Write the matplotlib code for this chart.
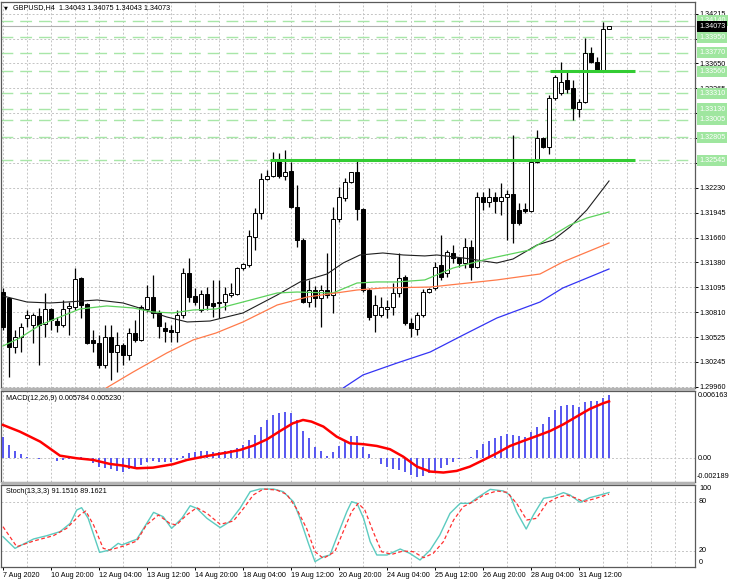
import numpy as np
import matplotlib
matplotlib.use("Agg")
import matplotlib.pyplot as plt
import matplotlib.transforms as mtransforms
from matplotlib.patches import Rectangle

plt.rcParams['font.family'] = ['Liberation Sans', 'DejaVu Sans']

W, H = 730, 583

# --- GBPUSD H4 candles (bar 0 = 7 Aug 12:00) ---
opens = [1.31040, 1.30972, 1.30412, 1.30527, 1.30743, 1.30664, 1.30766, 1.30675, 1.30846, 1.30709,
         1.30664, 1.30858, 1.30869, 1.31200, 1.30903, 1.30492, 1.30458, 1.30207, 1.30527, 1.30355,
         1.30435, 1.30321, 1.30572, 1.30492, 1.30846, 1.30983, 1.30801, 1.30629, 1.30607, 1.30584,
         1.30778, 1.31257, 1.30995, 1.30835, 1.31017, 1.30915, 1.30915, 1.30926, 1.31006, 1.31017,
         1.31314, 1.31349, 1.31669, 1.31943, 1.32331, 1.32365, 1.32536, 1.32365, 1.32422, 1.32011,
         1.31634, 1.30926, 1.31063, 1.30972, 1.31063, 1.31006, 1.31874, 1.32114, 1.32297, 1.32411,
         1.31988, 1.31063, 1.30778, 1.30778, 1.30846, 1.30869, 1.31029, 1.31212, 1.30686, 1.30618,
         1.30778, 1.31040, 1.31086, 1.31349, 1.31257, 1.31486, 1.31429, 1.31372, 1.31554, 1.31326,
         1.32125, 1.32068, 1.32125, 1.32080, 1.32125, 1.32160, 1.31977, 1.31988, 1.31966, 1.32525,
         1.32799, 1.32696, 1.33256, 1.33313, 1.33461, 1.33370, 1.33130, 1.33210, 1.33770, 1.33667,
         1.33576, 1.34043]
highs = [1.31086, 1.30983, 1.30607, 1.30688, 1.30835, 1.30801, 1.30858, 1.31029, 1.30858, 1.30755,
         1.30949, 1.30926, 1.31314, 1.31212, 1.30915, 1.30607, 1.30549, 1.30664, 1.30664, 1.30584,
         1.30458, 1.30629, 1.30721, 1.30892, 1.31120, 1.31235, 1.30835, 1.30698, 1.30664, 1.30835,
         1.31314, 1.31429, 1.31086, 1.31063, 1.31097, 1.31177, 1.31177, 1.31097, 1.31143, 1.31326,
         1.31372, 1.31748, 1.32000, 1.32399, 1.32434, 1.32639, 1.32628, 1.32662, 1.32525, 1.32262,
         1.31657, 1.31177, 1.31109, 1.31120, 1.31486, 1.32011, 1.32240, 1.32342, 1.32411, 1.32548,
         1.32000, 1.31086, 1.31006, 1.30983, 1.30949, 1.31143, 1.31486, 1.31235, 1.30743, 1.30812,
         1.31075, 1.31086, 1.31383, 1.31691, 1.31520, 1.31577, 1.31440, 1.31657, 1.31634, 1.32182,
         1.32182, 1.32228, 1.32182, 1.32285, 1.32205, 1.32833, 1.32057, 1.32057, 1.32548, 1.32890,
         1.32810, 1.33290, 1.33519, 1.33667, 1.33553, 1.33461, 1.33244, 1.33941, 1.33838, 1.33724,
         1.34124, 1.34075]
lows = [1.30607, 1.30070, 1.30344, 1.30355, 1.30641, 1.30458, 1.30207, 1.30527, 1.30607, 1.30584,
        1.30641, 1.30549, 1.30835, 1.30743, 1.30447, 1.30355, 1.30172, 1.30172, 1.30035, 1.30127,
        1.30207, 1.30264, 1.30469, 1.30481, 1.30812, 1.30743, 1.30515, 1.30469, 1.30469, 1.30469,
        1.30743, 1.30926, 1.30892, 1.30812, 1.30835, 1.30755, 1.30743, 1.30835, 1.30983, 1.31006,
        1.31292, 1.31326, 1.31520, 1.31874, 1.32319, 1.32354, 1.32342, 1.32319, 1.32000, 1.31554,
        1.30915, 1.30869, 1.30869, 1.30641, 1.30972, 1.30801, 1.31840, 1.32080, 1.32285, 1.31863,
        1.31040, 1.30721, 1.30584, 1.30755, 1.30743, 1.30778, 1.30983, 1.30664, 1.30527, 1.30549,
        1.30755, 1.31029, 1.31063, 1.31177, 1.31212, 1.31372, 1.31326, 1.31314, 1.31177, 1.31314,
        1.31977, 1.32011, 1.31943, 1.31920, 1.31634, 1.31600, 1.31806, 1.31943, 1.31954, 1.32514,
        1.32685, 1.32616, 1.33233, 1.33290, 1.33313, 1.33005, 1.33039, 1.33199, 1.33656, 1.33564,
        1.33564, 1.34043]
closes = [1.30641, 1.30412, 1.30527, 1.30641, 1.30778, 1.30778, 1.30664, 1.30846, 1.30721, 1.30664,
          1.30846, 1.30881, 1.31189, 1.30892, 1.30458, 1.30458, 1.30207, 1.30527, 1.30355, 1.30435,
          1.30321, 1.30572, 1.30492, 1.30869, 1.30983, 1.30801, 1.30652, 1.30595, 1.30584, 1.30778,
          1.31257, 1.30983, 1.30926, 1.31017, 1.30892, 1.30881, 1.30926, 1.31017, 1.31029, 1.31314,
          1.31360, 1.31680, 1.31943, 1.32333, 1.32365, 1.32536, 1.32365, 1.32411, 1.32011, 1.31634,
          1.30926, 1.31063, 1.30972, 1.31063, 1.31006, 1.31874, 1.32125, 1.32297, 1.32411, 1.31988,
          1.31063, 1.30755, 1.30892, 1.30869, 1.30869, 1.31029, 1.31200, 1.30686, 1.30629, 1.30778,
          1.31040, 1.31075, 1.31326, 1.31212, 1.31497, 1.31429, 1.31372, 1.31554, 1.31326, 1.32125,
          1.32068, 1.32125, 1.32080, 1.32125, 1.32160, 1.31828, 1.31828, 1.31966, 1.32525, 1.32799,
          1.32696, 1.33256, 1.33496, 1.33439, 1.33359, 1.33142, 1.33210, 1.33770, 1.33667, 1.33576,
          1.34044, 1.34073]

# moving averages: (bar, price)
ma_black_x = [0, 4, 7.8, 10.7, 15.7, 20, 23.3, 27.3, 30.7, 34.5, 40, 45.7, 49.5, 54, 56.7, 59.5,
              63.3, 66.7, 70.3, 72.3, 76.7, 82.3, 85, 89, 91.7, 94.5, 97.3, 101]
ma_black_y = [1.30995, 1.30926, 1.30915, 1.30926, 1.30949, 1.30915, 1.30846, 1.30755, 1.30698,
              1.30709, 1.30801, 1.31006, 1.31155, 1.31246, 1.31372, 1.31463, 1.31486, 1.31463,
              1.31452, 1.31463, 1.31429, 1.31372, 1.31417, 1.31577, 1.31634, 1.31783, 1.31977, 1.32308]
ma_green_x = [0, 2.8, 6.2, 9.5, 12.8, 17.3, 21.7, 25, 28.3, 31.7, 35.5, 40, 45.7, 49, 55, 59,
              62.3, 65.7, 70.3, 75, 80.7, 86.2, 87.8, 91.7, 94.5, 97.3, 101]
ma_green_y = [1.30424, 1.30515, 1.30664, 1.30755, 1.30846, 1.30881, 1.30858, 1.30812, 1.30801,
              1.30835, 1.30846, 1.30926, 1.31029, 1.31040, 1.31029, 1.31143, 1.31155, 1.31155,
              1.31178, 1.31314, 1.31417, 1.31497, 1.31520, 1.31691, 1.31806, 1.31885, 1.31954]
ma_orange_x = [17.2, 21.7, 27.3, 31.7, 35.5, 40, 45.7, 50.7, 55.5, 59, 63.3, 71.2, 82.3, 89.5, 93.3, 101]
ma_orange_y = [1.29944, 1.30127, 1.30344, 1.30493, 1.30572, 1.30698, 1.30892, 1.30983, 1.31029,
               1.31063, 1.31086, 1.31097, 1.31178, 1.31246, 1.31383, 1.31600]
ma_blue_x = [56.7, 60, 65.7, 71.2, 76.7, 82.3, 89.5, 93.3, 101]
ma_blue_y = [1.29944, 1.30093, 1.30230, 1.30355, 1.30549, 1.30743, 1.30926, 1.31086, 1.31303]

# horizontal levels
level_prices = [1.34140, 1.33950, 1.33770, 1.33560, 1.33310, 1.33130, 1.33005, 1.32805, 1.32545]
support_prices = [1.33560, 1.32545]
support_start = [91.2, 44.5]
support_end = 105.3
last_price = 1.34073
price_ticks = [1.29960, 1.30245, 1.30525, 1.30810, 1.31095, 1.31380, 1.31660, 1.31945, 1.32230,
               1.32510, 1.32795, 1.33080, 1.33365, 1.33650, 1.33935, 1.34215]

# MACD(12,26,9)
macd_hist = [0.00199, 0.00122, 0.00070, 0.00037, 0.00010, 0.00002, -0.00006, 0.00002, 0.00005, -0.00024,
             -0.00015, -0.00006, 0.00010, 0.00010, -0.00006, -0.00046, -0.00077, -0.00086, -0.00098, -0.00113,
             -0.00122, -0.00098, -0.00086, -0.00061, -0.00037, -0.00024, -0.00031, -0.00037, -0.00031, -0.00015,
             0.00020, 0.00046, 0.00055, 0.00067, 0.00067, 0.00061, 0.00055, 0.00067, 0.00076, 0.00098,
             0.00122, 0.00168, 0.00214, 0.00291, 0.00352, 0.00398, 0.00413, 0.00428, 0.00413, 0.00352,
             0.00251, 0.00184, 0.00107, 0.00067, 0.00020, 0.00061, 0.00113, 0.00168, 0.00208, 0.00208,
             0.00107, 0.00040, 0.00006, -0.00055, -0.00077, -0.00098, -0.00107, -0.00129, -0.00153, -0.00168,
             -0.00159, -0.00138, -0.00129, -0.00092, -0.00061, -0.00031, -0.00006, 0.00006, 0.00010, 0.00076,
             0.00129, 0.00159, 0.00184, 0.00208, 0.00220, 0.00214, 0.00208, 0.00199, 0.00245, 0.00291,
             0.00312, 0.00376, 0.00444, 0.00483, 0.00490, 0.00490, 0.00474, 0.00514, 0.00529, 0.00529,
             0.00551, 0.00578]
macd_sig_x = [0, 2.8, 6.2, 9.5, 12.3, 15, 17.8, 20, 22.3, 25, 28.3, 30.7, 34, 37.3, 39.5, 41.7, 44,
              46.2, 48.3, 50, 51.4, 53.4, 55.6, 57.8, 60.1, 62.3, 64.5, 66.7, 69, 71.2, 73.4, 75.6,
              77.8, 80.1, 82.3, 84.5, 86.7, 89, 91.2, 93.4, 95.6, 97.8, 100, 101]
macd_sig_y = [0.00306, 0.00245, 0.00153, 0.00024, 0.0, -0.00015, -0.00052, -0.00067, -0.00092, -0.00086,
              -0.00055, -0.00015, 0.00021, 0.00052, 0.00076, 0.00116, 0.00174, 0.00251, 0.00321, 0.00352,
              0.00337, 0.00291, 0.00199, 0.00138, 0.00129, 0.00113, 0.00083, 0.00015, -0.00077, -0.00122,
              -0.00131, -0.00116, -0.00077, -0.00015, 0.00046, 0.00113, 0.00159, 0.00205, 0.00251, 0.00312,
              0.00383, 0.00453, 0.00505, 0.00523]

# Stochastic(13,3,3)
st_main_x = [0, 2, 5.1, 7.3, 9.5, 11.2, 12.3, 13.1, 14.2, 16.1, 17.8, 19.2, 19.8, 21.2, 22.3, 25.1,
             26.7, 28.1, 29.8, 31.2, 32.3, 34, 36.2, 37.8, 39.5, 41.2, 42.8, 45.1, 46.7, 48.4, 49.5,
             50.9, 52, 53.4, 54.5, 56.2, 57.3, 58.1, 59, 60.1, 61.2, 62.3, 64, 66.2, 67.8, 69.5, 71.2,
             72.8, 74.5, 76.2, 77.8, 78.9, 81.2, 83.4, 84.5, 85.6, 87.2, 88.4, 90.1, 91.7, 93.4, 94.5,
             96.2, 97.8, 99.5, 101]
st_main_y = [37.4, 23.2, 34.6, 38.6, 43.5, 53.6, 69.9, 72.7, 59.7, 18.3, 21.2, 29.3, 27.3, 31.3, 34.2, 67.0,
             61.7, 47.5, 59.7, 75.1, 71.9, 59.7, 48.4, 55.7, 71.9, 92.2, 95.4, 95.4, 92.2, 80.0, 59.7,
             29.3, 7.0, 13.0, 15.1, 47.5, 67.8, 80.0, 78.0, 59.7, 31.3, 15.1, 15.1, 22.4, 17.1, 9.0, 21.2,
             39.4, 65.8, 78.0, 78.0, 84.1, 95.0, 93.0, 88.1, 67.8, 46.7, 63.8, 84.1, 86.1, 91.0, 88.1,
             79.2, 84.9, 88.1, 91.15]
st_sig_x = [0, 2.3, 5.1, 8.4, 10.6, 12.8, 13.8, 15.1, 16.7, 17.8, 20.1, 22.3, 23.9, 25.9, 27.8, 28.9,
            30.6, 32.3, 34, 36.2, 38.4, 40.1, 41.7, 43.4, 45.6, 47.3, 48.9, 50.6, 52, 53.4, 55.3, 56.7,
            58.1, 59.2, 60.3, 61.7, 63.1, 64.8, 66.7, 68.4, 70.1, 71.7, 73.4, 75.1, 76.7, 78.4, 80.1,
            82.3, 84, 85.6, 87.3, 88.9, 90.6, 92.3, 94, 95.6, 96.7, 98.4, 101]
st_sig_y = [49.6, 25.2, 32.1, 38.6, 47.5, 63.8, 68.6, 51.6, 23.2, 21.2, 26.0, 32.1, 51.6, 63.8, 53.6, 51.6,
            63.8, 72.7, 65.8, 52.4, 56.5, 71.9, 88.1, 95.4, 94.2, 88.9, 71.9, 47.5, 19.1, 11.0, 19.1, 43.5,
            67.8, 78.0, 69.9, 43.5, 19.1, 15.9, 20.0, 19.1, 11.8, 17.1, 31.3, 57.7, 73.9, 80.0, 88.1,
            93.0, 91.4, 78.0, 57.7, 59.7, 78.0, 84.9, 88.1, 84.1, 80.0, 83.2, 89.16]

time_ticks = [0, 8, 16, 24, 32, 40, 48, 56, 64, 72, 80, 88, 96]
time_labels = ["7 Aug 2020", "10 Aug 20:00", "12 Aug 04:00", "13 Aug 12:00", "14 Aug 20:00",
               "18 Aug 04:00", "19 Aug 12:00", "20 Aug 20:00", "24 Aug 04:00", "25 Aug 12:00",
               "26 Aug 20:00", "28 Aug 04:00", "31 Aug 12:00"]


def fx(x):
    return x / W


def fy(y):
    return 1 - y / H


FS = 5.2
GRID = dict(color="#C4C4C4", linestyle=(0, (2, 2)), linewidth=0.7)
XL, XR = 1, 695

fig = plt.figure(figsize=(W / 100, H / 100), dpi=100)
fig.patch.set_facecolor("white")

ax = fig.add_axes([fx(XL), fy(388), fx(XR) - fx(XL), fy(2) - fy(388)])
ax_m = fig.add_axes([fx(XL), fy(482), fx(XR) - fx(XL), fy(391) - fy(482)])
ax_s = fig.add_axes([fx(XL), fy(567), fx(XR) - fx(XL), fy(485) - fy(567)])

# separators between windows
for top, bot in [(388, 391), (482, 485)]:
    fig.patches.append(Rectangle((fx(XL), fy(bot)), fx(XR) - fx(XL), fy(top) - fy(bot),
                                 transform=fig.transFigure, fc="#B4B4B4", ec="none"))

for a in (ax, ax_m, ax_s):
    a.set_xlim(-0.33, 115.33)
    for s in a.spines.values():
        s.set_color("#5A5A5A")
        s.set_linewidth(0.9)
    a.set_facecolor("white")

# ---- main chart ----
o = np.array(opens)
c = np.array(closes)
idx = np.arange(len(o))
ax.set_ylim(1.29944, 1.34352)

ax.set_xticks(np.arange(0, 116, 4))
ax.tick_params(axis="x", length=0, labelbottom=False)
ax.grid(True, axis="both", **GRID)
ax.set_axisbelow(True)
ax.yaxis.tick_right()
ax.set_yticks(price_ticks)
ax.set_yticklabels([f"{p:.5f}" for p in price_ticks])
ax.tick_params(axis="y", length=2.2, width=0.7, pad=1, labelsize=FS, colors="black")

for p in level_prices:
    ax.axhline(p, color="#A8E6A8", lw=1.0, linestyle=(0, (8.5, 5)), zorder=1)
ax.axhline(last_price, color="#B0B0B0", lw=0.8, zorder=1)

ax.vlines(idx, lows, highs, color="black", lw=0.9, zorder=3)
body_col = np.where(c >= o, "white", "black")
ax.bar(idx, np.abs(c - o), bottom=np.minimum(o, c), width=0.55, color=body_col,
       edgecolor="black", linewidth=0.7, zorder=4)

ax.plot(ma_black_x, ma_black_y, color="#1E1E1E", lw=0.8, zorder=5)
ax.plot(ma_green_x, ma_green_y, color="#5CD25C", lw=0.9, zorder=5)
ax.plot(ma_orange_x, ma_orange_y, color="#FF7A4A", lw=0.9, zorder=5)
ax.plot(ma_blue_x, ma_blue_y, color="#3434F4", lw=0.9, zorder=5)

for p, s in zip(support_prices, support_start):
    ax.plot([s, support_end], [p, p], color="#33CC33", lw=2.2, zorder=6, solid_capstyle="butt")

tr = mtransforms.blended_transform_factory(ax.transAxes, ax.transData)
for p in level_prices:
    ax.text(1 + 4 / 694, p, f"{p:.5f}", transform=tr, ha="left", va="center", fontsize=FS,
            color="white", clip_on=False, zorder=10,
            bbox=dict(boxstyle="square,pad=0.28", fc="#9FE69F", ec="none"))
ax.text(1 + 4 / 694, last_price, f"{last_price:.5f}", transform=tr, ha="left", va="center",
        fontsize=FS, color="white", clip_on=False, zorder=11,
        bbox=dict(boxstyle="square,pad=0.28", fc="black", ec="none"))

fig.text(fx(4), fy(7.5), "\u25bc", fontsize=3.6, ha="left", va="center", family=["DejaVu Sans"])
fig.text(fx(13), fy(7.5), "GBPUSD,H4  1.34043 1.34075 1.34043 1.34073", fontsize=FS,
         ha="left", va="center")

# ---- MACD ----
ax_m.set_ylim(-0.00218, 0.00618)
ax_m.set_xticks(np.arange(0, 116, 4))
ax_m.tick_params(axis="x", length=0, labelbottom=False)
ax_m.set_yticks([])
ax_m.grid(True, axis="x", **GRID)
ax_m.set_axisbelow(True)
ax_m.axhline(0, zorder=1, **GRID)
ax_m.bar(idx, macd_hist, width=0.33, color="#5A5AF0", zorder=3)
ax_m.plot(macd_sig_x, macd_sig_y, color="#FF0000", lw=1.8, zorder=4)
fig.text(fx(6), fy(398), "MACD(12,26,9) 0.005784 0.005230", fontsize=FS, ha="left", va="center")
fig.text(fx(698), fy(395.5), "0.006163", fontsize=FS, ha="left", va="center")
fig.text(fx(698), fy(458.5), "0.00", fontsize=FS, ha="left", va="center")
fig.text(fx(697), fy(477), "-0.002189", fontsize=FS, ha="left", va="center")

# ---- Stochastic ----
ax_s.set_ylim(0.5, 100.3)
ax_s.set_yticks([])
ax_s.set_xticks(time_ticks)
ax_s.set_xticklabels(time_labels, ha="left")
ax_s.set_xticks(np.arange(0, 116, 4), minor=True)
ax_s.tick_params(axis="x", which="major", length=2.2, width=0.7, pad=1.5, labelsize=FS)
ax_s.tick_params(axis="x", which="minor", length=0)
ax_s.grid(True, axis="x", which="minor", **GRID)
ax_s.set_axisbelow(True)
ax_s.axhline(80, zorder=1, **GRID)
ax_s.axhline(20, zorder=1, **GRID)
ax_s.plot(st_main_x, st_main_y, color="#5CCBC0", lw=1.0, zorder=3)
ax_s.plot(st_sig_x, st_sig_y, color="#FF3030", lw=0.9, linestyle=(0, (3, 2)), zorder=4)
fig.text(fx(6), fy(491.5), "Stoch(13,3,3) 91.1516 89.1621", fontsize=FS, ha="left", va="center")
fig.text(fx(699), fy(489), "100", fontsize=FS, ha="left", va="center")
fig.text(fx(699), fy(501.7), "80", fontsize=FS, ha="left", va="center")
fig.text(fx(699), fy(551), "20", fontsize=FS, ha="left", va="center")
fig.text(fx(699), fy(562), "0", fontsize=FS, ha="left", va="center")

fig.savefig("out.png", dpi=100, facecolor="white")
